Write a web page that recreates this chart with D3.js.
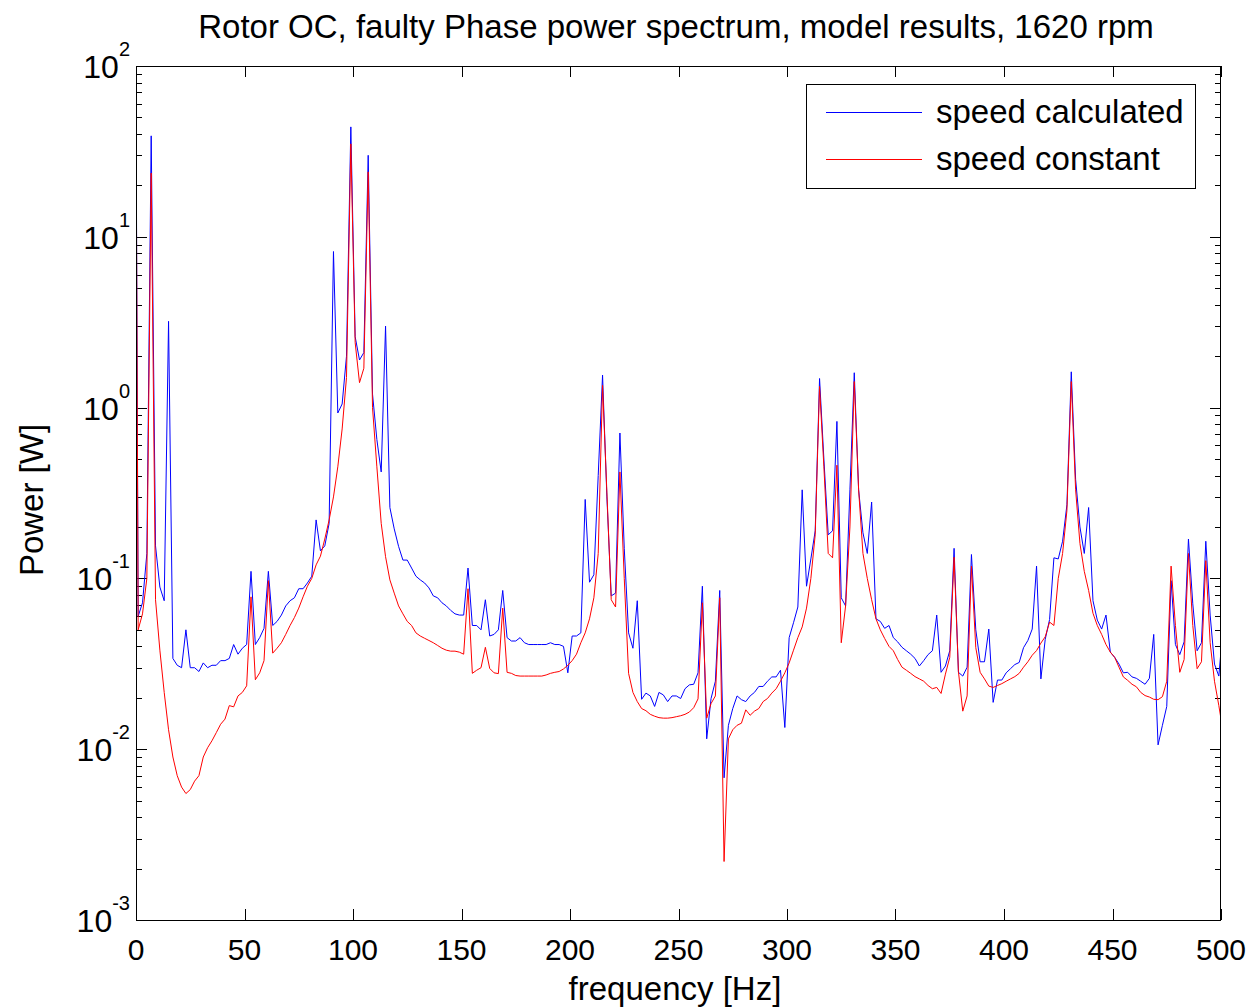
<!DOCTYPE html>
<html><head><meta charset="utf-8">
<script src="https://cdn.jsdelivr.net/npm/d3@7"></script>
<style>
body{margin:0;background:#fff}
text{font-family:"Liberation Sans",Arial,Helvetica,sans-serif;fill:#000}
</style></head>
<body><svg id="chart" width="1254" height="1007"></svg>
<script>
// sample grid: DC, odd frequencies 1..499 Hz, and 500 Hz end point
const freq = [0].concat(d3.range(1, 500, 2), [500]);

const speedCalculated = [70,
0.06,0.072,0.14,39,0.155,0.089,0.074,3.2,0.034,0.031,
0.030,0.050,0.030,0.030,0.0285,0.032,0.030,0.031,0.031,0.033,
0.033,0.034,0.041,0.036,0.039,0.041,0.11,0.041,0.045,0.051,
0.11,0.053,0.056,0.061,0.069,0.074,0.077,0.087,0.087,0.094,
0.103,0.22,0.145,0.155,0.21,8.2,0.93,1.05,2.0,44,
2.6,1.9,2.1,30,1.2,0.65,0.42,3.0,0.26,0.195,
0.154,0.128,0.128,0.115,0.103,0.098,0.094,0.088,0.079,0.077,
0.072,0.069,0.065,0.062,0.061,0.061,0.115,0.053,0.053,0.050,
0.075,0.046,0.047,0.050,0.085,0.045,0.043,0.043,0.045,0.042,
0.041,0.041,0.041,0.041,0.041,0.042,0.041,0.041,0.040,0.028,
0.046,0.046,0.048,0.29,0.095,0.105,0.4,1.55,0.3,0.079,
0.082,0.71,0.15,0.048,0.039,0.074,0.0196,0.0213,0.0205,0.0178,
0.0215,0.0208,0.019,0.0205,0.0205,0.0198,0.0226,0.0238,0.024,0.028,
0.090,0.0115,0.0198,0.025,0.085,0.0068,0.0138,0.0173,0.0205,0.0195,
0.019,0.0205,0.0215,0.0233,0.0233,0.025,0.0265,0.0265,0.029,0.0134,
0.045,0.055,0.068,0.33,0.09,0.13,0.19,1.48,0.5,0.18,
0.19,0.83,0.077,0.069,0.33,1.6,0.33,0.185,0.14,0.28,
0.058,0.056,0.051,0.053,0.045,0.0425,0.0395,0.0377,0.036,0.034,
0.0307,0.033,0.0358,0.0377,0.061,0.0282,0.0307,0.0377,0.15,0.0282,
0.0268,0.0302,0.138,0.050,0.0325,0.0325,0.0505,0.0188,0.0254,0.0254,
0.028,0.0296,0.0313,0.0322,0.0393,0.0433,0.0505,0.118,0.0258,0.044,
0.0574,0.132,0.13,0.165,0.27,1.62,0.38,0.2,0.14,0.26,
0.074,0.057,0.0505,0.061,0.037,0.0345,0.0315,0.028,0.0282,0.0265,
0.026,0.025,0.024,0.026,0.047,0.0106,0.0138,0.0178,0.097,0.041,
0.0358,0.0425,0.17,0.071,0.0377,0.042,0.165,0.061,0.0315,0.0268,
0.0377];

const speedConstant = [60,
0.05,0.062,0.1,23.6,0.075,0.038,0.0215,0.013,0.009,0.007,
0.006,0.0055,0.0058,0.0065,0.007,0.009,0.0102,0.0112,0.0125,0.014,
0.015,0.018,0.0177,0.0205,0.0215,0.0235,0.078,0.0255,0.028,0.033,
0.097,0.0365,0.039,0.042,0.047,0.053,0.059,0.067,0.078,0.09,
0.10,0.12,0.135,0.17,0.22,0.3,0.45,0.75,1.5,35,
2.4,1.4,1.7,24,1.0,0.45,0.21,0.134,0.098,0.082,
0.069,0.062,0.056,0.053,0.048,0.046,0.0446,0.0433,0.042,0.0405,
0.039,0.038,0.0375,0.0375,0.037,0.036,0.087,0.0278,0.029,0.030,
0.0395,0.0297,0.028,0.0277,0.067,0.0282,0.0278,0.027,0.0268,0.0268,
0.0268,0.0268,0.0268,0.0268,0.0272,0.0278,0.0282,0.0285,0.0295,0.031,
0.033,0.036,0.042,0.048,0.058,0.077,0.14,1.35,0.32,0.075,
0.068,0.42,0.1,0.0278,0.0215,0.019,0.0173,0.0168,0.016,0.0156,
0.0153,0.0152,0.0152,0.0153,0.0155,0.0157,0.016,0.0165,0.0175,0.0197,
0.072,0.0152,0.0185,0.0205,0.077,0.0022,0.0115,0.013,0.0138,0.0142,
0.017,0.0158,0.0167,0.0173,0.019,0.0198,0.0213,0.0226,0.025,0.028,
0.032,0.038,0.045,0.052,0.067,0.1,0.18,1.33,0.45,0.14,
0.132,0.46,0.042,0.069,0.2,1.42,0.33,0.14,0.1,0.075,
0.058,0.050,0.0445,0.04,0.0377,0.0335,0.0302,0.029,0.0278,0.0266,
0.0258,0.025,0.0236,0.0226,0.023,0.0212,0.0275,0.0345,0.133,0.0285,
0.0167,0.0205,0.118,0.0393,0.0282,0.0258,0.0234,0.023,0.0236,0.0242,
0.025,0.0258,0.0266,0.0278,0.0302,0.0325,0.0355,0.0378,0.0418,0.0455,
0.0555,0.053,0.1,0.14,0.25,1.42,0.33,0.16,0.11,0.085,
0.0625,0.053,0.047,0.041,0.037,0.0345,0.0302,0.0265,0.0253,0.024,
0.0232,0.0215,0.0206,0.0202,0.0196,0.0195,0.0203,0.025,0.118,0.053,
0.0282,0.0335,0.14,0.053,0.0296,0.0325,0.127,0.042,0.025,0.018,
0.015];

const xTickValues = [0,50,100,150,200,250,300,350,400,450,500];
const yExponents = [-3,-2,-1,0,1,2];
const seriesNames = ["speed calculated","speed constant"];
const seriesColors = ["#0000ff","#ff0000"];
const titleText = "Rotor OC, faulty Phase power spectrum, model results, 1620 rpm";
const xLabel = "frequency [Hz]";
const yLabel = "Power [W]";

const L = 136, R = 1221, T = 66, B = 920;
const svg = d3.select("#chart");
const x = d3.scaleLinear().domain([0, 500]).range([L, R]);
const y = d3.scaleLog().domain([1e-3, 1e2]).range([B, T]);

svg.append("rect").attr("width",1254).attr("height",1007).attr("fill","#fff");

svg.append("defs").append("clipPath").attr("id","clip")
  .append("rect").attr("x",L).attr("y",T).attr("width",R-L).attr("height",B-T);

// ticks
const g = svg.append("g").attr("stroke","#000").attr("stroke-width",1);
const majorLen = 11, minorLen = 6;
xTickValues.forEach(v => {
  const px = Math.round(x(v)) + 0.5;
  g.append("line").attr("x1",px).attr("x2",px).attr("y1",B).attr("y2",B-majorLen);
  g.append("line").attr("x1",px).attr("x2",px).attr("y1",T).attr("y2",T+majorLen);
});
yExponents.forEach(e => {
  const py = Math.round(y(Math.pow(10,e))) + 0.5;
  g.append("line").attr("x1",L).attr("x2",L+majorLen).attr("y1",py).attr("y2",py);
  g.append("line").attr("x1",R).attr("x2",R-majorLen).attr("y1",py).attr("y2",py);
  if (e < 2) {
    for (let m = 2; m <= 9; m++) {
      const pm = Math.round(y(m*Math.pow(10,e))) + 0.5;
      g.append("line").attr("x1",L).attr("x2",L+minorLen).attr("y1",pm).attr("y2",pm);
      g.append("line").attr("x1",R).attr("x2",R-minorLen).attr("y1",pm).attr("y2",pm);
    }
  }
});

// lines
const line = d3.line().x((d,i) => x(freq[i])).y(d => y(d));
const plot = svg.append("g").attr("clip-path","url(#clip)");
[speedCalculated, speedConstant].forEach((s, k) => {
  plot.append("path").datum(s).attr("d", line)
    .attr("fill","none").attr("stroke", seriesColors[k]).attr("stroke-width",1);
});

// box
svg.append("rect").attr("x",L+0.5).attr("y",T+0.5).attr("width",R-L-1).attr("height",B-T)
  .attr("fill","none").attr("stroke","#000").attr("stroke-width",1);

// x tick labels
svg.append("g").selectAll("text").data(xTickValues).join("text")
  .attr("x", d => x(d)).attr("y", 960).attr("text-anchor","middle")
  .attr("font-size",30).text(d => d);

// y tick labels
const yl = svg.append("g").selectAll("text").data(yExponents).join("text")
  .attr("x", 130).attr("y", d => y(Math.pow(10,d)) + 12)
  .attr("text-anchor","end").attr("font-size",32);
yl.append("tspan").text("10");
yl.append("tspan").attr("dy",-22).attr("font-size",20).text(d => d);

// title and axis labels
svg.append("text").attr("x",676).attr("y",38).attr("text-anchor","middle")
  .attr("font-size",33).text(titleText);
svg.append("text").attr("x",675).attr("y",1000).attr("text-anchor","middle")
  .attr("font-size",33).text(xLabel);
svg.append("text").attr("transform",`translate(43,500) rotate(-90)`)
  .attr("text-anchor","middle").attr("font-size",33).text(yLabel);

// legend
const lg = svg.append("g");
lg.append("rect").attr("x",806.5).attr("y",84.5).attr("width",389).attr("height",104)
  .attr("fill","#fff").attr("stroke","#000").attr("stroke-width",1);
seriesNames.forEach((n, k) => {
  const ly = 112 + k*47;
  lg.append("line").attr("x1",826).attr("x2",922).attr("y1",ly+0.5).attr("y2",ly+0.5)
    .attr("stroke",seriesColors[k]).attr("stroke-width",1);
  lg.append("text").attr("x",936).attr("y",ly+11).attr("font-size",33).text(n);
});
</script></body></html>
